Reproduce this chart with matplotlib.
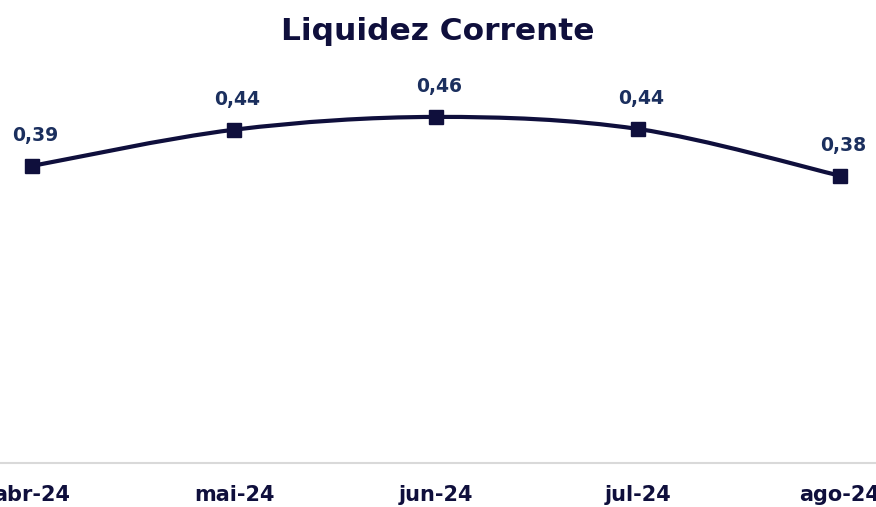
import numpy as np
import matplotlib
matplotlib.use("Agg")
import matplotlib.pyplot as plt
from matplotlib.path import Path
from matplotlib.patches import PathPatch

months = ["abr-24", "mai-24", "jun-24", "jul-24", "ago-24"]
liquidez = [0.394, 0.442, 0.459, 0.443, 0.381]

NAVY = "#0f0f3c"
LBL = "#1b2f5e"
plt.rcParams["font.family"] = ["DejaVu Sans"]

fig = plt.figure(figsize=(8.76, 5.07), dpi=100)
ax = fig.add_axes([0, 44 / 507, 1, 377 / 507])
x = np.arange(len(months))
y = np.array(liquidez)

# smoothed line (Catmull-Rom style bezier, like spreadsheet smoothing)
verts = [(x[0], y[0])]
codes = [Path.MOVETO]
n = len(x)
for i in range(n - 1):
    p0 = np.array([x[max(i - 1, 0)], y[max(i - 1, 0)]])
    p1 = np.array([x[i], y[i]])
    p2 = np.array([x[i + 1], y[i + 1]])
    p3 = np.array([x[min(i + 2, n - 1)], y[min(i + 2, n - 1)]])
    c1 = p1 + (p2 - p0) / 6
    c2 = p2 - (p3 - p1) / 6
    verts += [tuple(c1), tuple(c2), tuple(p2)]
    codes += [Path.CURVE4] * 3
ax.add_patch(PathPatch(Path(verts, codes), fill=False, edgecolor=NAVY, lw=3, capstyle="round", zorder=2))
ax.plot(x, y, ls="none", marker="s", ms=9.5, color=NAVY, zorder=3)

for xi, yi in zip(x, y):
    ax.annotate(f"{yi:.2f}".replace(".", ","), (xi, yi), xytext=(2, 22), textcoords="offset points",
                ha="center", va="center", fontsize=13.5, fontweight="bold", color=LBL)

ax.set_xlim(-32 / 202, 4 + 36 / 202)
ax.set_ylim(0, 0.5)
ax.set_xticks(x)
ax.set_xticklabels(months, fontsize=15, fontweight="bold", color=NAVY)
ax.tick_params(axis="x", length=0, pad=16)
ax.set_yticks([])
for s in ["top", "left", "right"]:
    ax.spines[s].set_visible(False)
ax.spines["bottom"].set_color("#d9d9d9")
ax.spines["bottom"].set_linewidth(1.5)

fig.text(0.5, 1 - 32 / 507, "Liquidez Corrente", ha="center", va="center",
         fontsize=22.5, fontweight="bold", color=NAVY)

fig.savefig("out.png", dpi=100)
